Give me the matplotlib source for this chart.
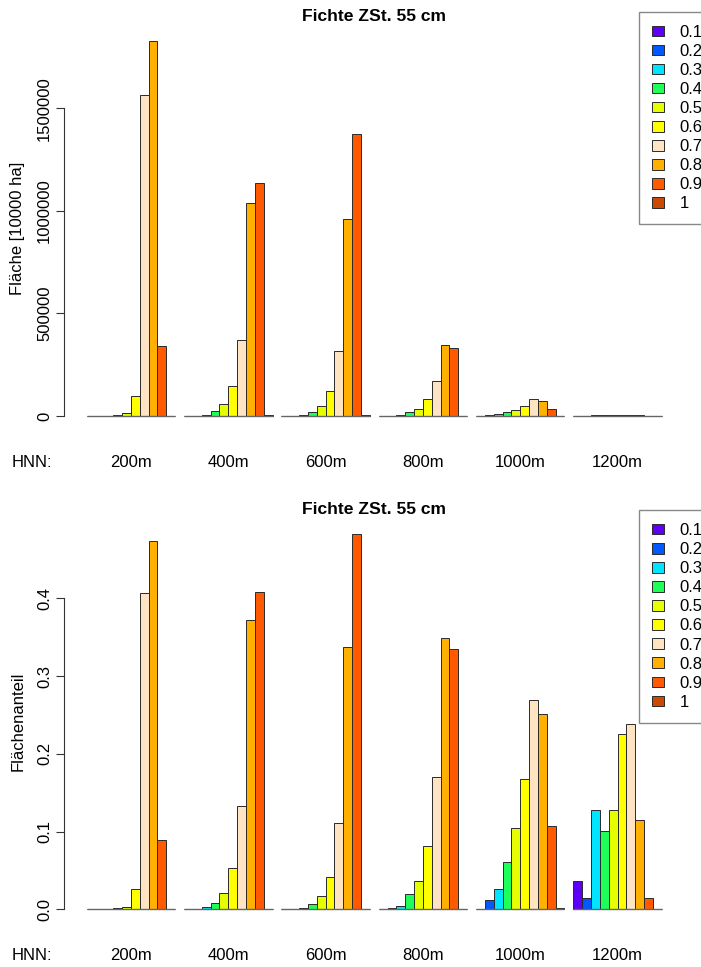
"""
Grouped bar charts: Fichte ZSt. 55 cm, area and area share per altitude class.
"""

import matplotlib
matplotlib.use("Agg")
import matplotlib.pyplot as plt
import matplotlib.transforms as mtransforms
from matplotlib.patches import Patch

plt.rcParams['font.family'] = ['Liberation Sans', 'DejaVu Sans']

heights = ["200m", "400m", "600m", "800m", "1000m", "1200m"]
classes = ["0.1", "0.2", "0.3", "0.4", "0.5", "0.6", "0.7", "0.8", "0.9", "1"]
colors = ["#5E00F5", "#0058FF", "#00E5FF", "#1EFF5A", "#E5FF00",
          "#FFFF00", "#FFE4C4", "#FFB000", "#FF5A00", "#CC4A00"]

# area per class [10000 ha], one list per altitude
area_200 = [0, 0, 500, 6500, 13100, 99300, 1567000, 1827600, 343400, 0]
area_400 = [0, 800, 7200, 23600, 59500, 148000, 370000, 1039000, 1137000, 2800]
area_600 = [0, 1400, 4800, 19400, 48700, 119700, 317800, 961600, 1377400, 2800]
area_800 = [500, 1700, 4200, 19500, 36500, 80700, 169100, 345000, 332200, 1000]
area_1000 = [100, 3600, 7950, 18270, 31410, 50220, 80610, 75180, 31920, 450]
area_1200 = [1010, 410, 3560, 2810, 3560, 6300, 6640, 3220, 410, 0]

areas = [area_200, area_400, area_600, area_800, area_1000, area_1200]
shares = [[v / sum(grp) for v in grp] for grp in areas]

W, H = 701, 967
FS = 12  # base font size


def px_axes(fig, left, top, right, bottom):
    # place an axes by pixel edges
    return fig.add_axes([left / W, 1 - bottom / H, (right - left) / W, (bottom - top) / H])


def draw_panel(ax, data, ylabel, yticks, yticklabels):
    for g, grp in enumerate(data):
        left0 = 1 + 11 * g
        xs = [left0 + i for i in range(len(grp))]
        ax.bar(xs, grp, width=1, align='edge', color=colors,
               edgecolor='#2a2a2a', linewidth=0.7)
        ax.hlines(0, left0, left0 + 10, color='#666666', linewidth=1.0)

    ymax = max(max(grp) for grp in data)
    ax.set_xlim(1 - 0.04 * 65, 66 + 0.04 * 65)
    ax.set_ylim(-0.04 * ymax, 1.04 * ymax)

    for s in ['top', 'right', 'bottom']:
        ax.spines[s].set_visible(False)
    ax.spines['left'].set_bounds(yticks[0], yticks[-1])
    ax.spines['left'].set_color('#333333')
    ax.set_xticks([])
    ax.set_yticks(yticks)
    ax.set_yticklabels(yticklabels, fontsize=FS)
    ax.tick_params(axis='y', length=6, width=0.8, color='#333333', pad=2.5)
    for lbl in ax.get_yticklabels():
        lbl.set_rotation(90)
        lbl.set_va('center')

    ax.text(-0.0736, 0.5, ylabel, rotation=90, ha='center', va='center',
            fontsize=FS, transform=ax.transAxes)
    ax.text(0.5, 1.023, "Fichte ZSt. 55 cm", ha='center', va='center',
            fontsize=12.6, fontweight='bold', transform=ax.transAxes)

    trans = mtransforms.blended_transform_factory(ax.transData, ax.transAxes)
    for g, name in enumerate(heights):
        ax.text(1 + 11 * g + 5, -0.078, name, ha='center', va='center',
                fontsize=FS, transform=trans)
    ax.text(-0.051, -0.078, "HNN:", ha='center', va='center',
            fontsize=FS, transform=ax.transAxes)


def draw_legend(fig, top_px):
    handles = [Patch(facecolor=c, edgecolor='#2a2a2a', linewidth=0.7) for c in colors]
    fig.legend(handles, classes, loc='upper left',
               bbox_to_anchor=(639.3 / W, 1 - top_px / H), bbox_transform=fig.transFigure,
               fontsize=FS, frameon=True, fancybox=False, framealpha=1,
               edgecolor='#888888', borderaxespad=0, borderpad=0.78,
               handlelength=0.7, handleheight=0.6, handletextpad=0.95,
               labelspacing=0.245)


fig = plt.figure(figsize=(W / 100, H / 100), dpi=100)

ax1 = px_axes(fig, 63.7, 26.3, 684.8, 431)
draw_panel(ax1, areas, "Fläche [10000 ha]",
           [0, 500000, 1000000, 1500000], ["0", "500000", "1000000", "1500000"])
draw_legend(fig, 11.7)

ax2 = px_axes(fig, 63.7, 519, 684.8, 924.3)
draw_panel(ax2, shares, "Flächenanteil",
           [0, 0.1, 0.2, 0.3, 0.4], ["0.0", "0.1", "0.2", "0.3", "0.4"])
draw_legend(fig, 510)

fig.savefig("out.png", dpi=100)
